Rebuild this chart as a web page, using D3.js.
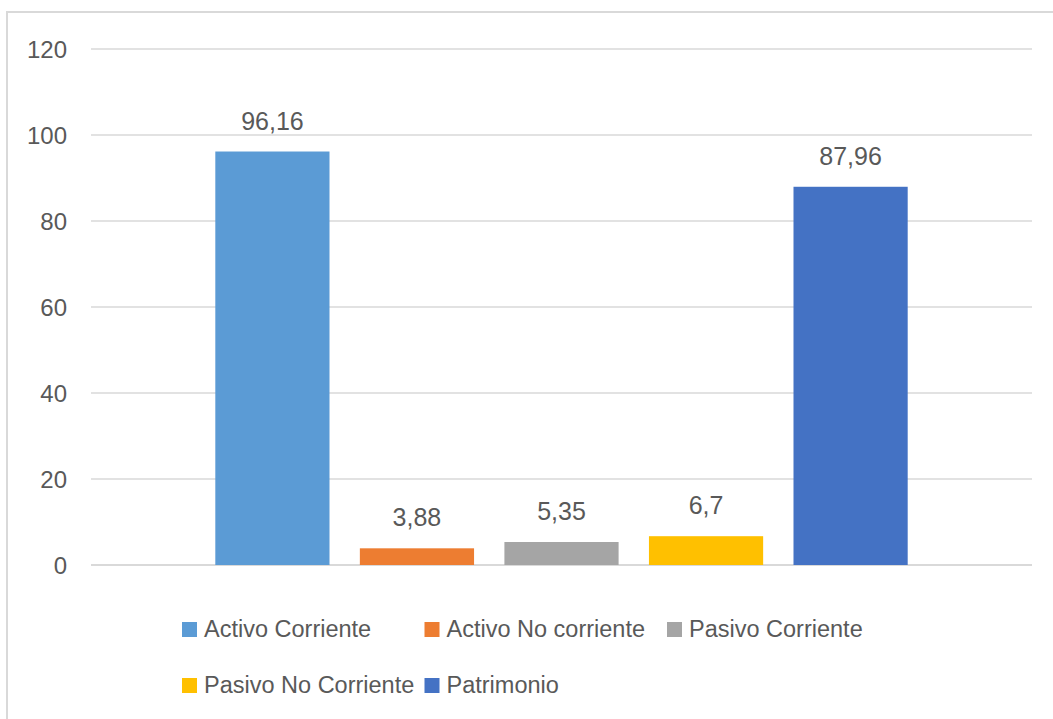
<!DOCTYPE html>
<meta charset="utf-8">
<script src="https://d3js.org/d3.v7.min.js"></script>
<style>
  body { margin: 0; background: #fff; }
  text { font-family: "Liberation Sans", Arial, sans-serif; fill: #595959; }
</style>
<div id="chart"></div>
<script>
// data
var series = ["Activo Corriente", "Activo No corriente", "Pasivo Corriente", "Pasivo No Corriente", "Patrimonio"];
var values = [96.16, 3.88, 5.35, 6.7, 87.96];
var labels = ["96,16", "3,88", "5,35", "6,7", "87,96"];
var colors = ["#5B9BD5", "#ED7D31", "#A5A5A5", "#FFC000", "#4472C4"];
var yTicks = [0, 20, 40, 60, 80, 100, 120];

var W = 1053, H = 719;
var plot = {left: 91, right: 1032, top: 49, bottom: 565};

var svg = d3.select("#chart").append("svg")
  .attr("width", W)
  .attr("height", H);

// outer chart border (only top and left visible in the crop)
svg.append("rect")
  .attr("x", 7).attr("y", 12)
  .attr("width", 1200).attr("height", 900)
  .attr("fill", "none")
  .attr("stroke", "#d9d9d9")
  .attr("stroke-width", 2);

var y = d3.scaleLinear().domain([0, 120]).range([plot.bottom, plot.top]);
var x = d3.scaleBand()
  .domain(series)
  .range([plot.left, plot.right])
  .paddingInner(0.21)
  .paddingOuter(0.86);

// gridlines
svg.append("g")
  .selectAll("line")
  .data(yTicks)
  .enter().append("line")
    .attr("x1", plot.left).attr("x2", plot.right)
    .attr("y1", function(d) { return y(d); })
    .attr("y2", function(d) { return y(d); })
    .attr("stroke", "#d9d9d9")
    .attr("stroke-width", function(d) { return d == 0 ? 2 : 1.5; });

// y axis labels
var yAxis = svg.append("g")
  .attr("transform", "translate(" + (plot.left - 24) + ",0)")
  .call(d3.axisLeft(y).tickValues(yTicks).tickSize(0).tickPadding(0));
yAxis.select(".domain").remove();
yAxis.selectAll("text")
  .style("font-size", "24px")
  .attr("fill", "#595959")
  .attr("dy", "0.35em")
  .style("font-family", "'Liberation Sans', Arial, sans-serif");

// bars
svg.append("g")
  .selectAll("rect")
  .data(series)
  .enter().append("rect")
    .attr("x", function(d) { return x(d); })
    .attr("y", function(d, i) { return y(values[i]); })
    .attr("width", x.bandwidth())
    .attr("height", function(d, i) { return y(0) - y(values[i]); })
    .attr("fill", function(d, i) { return colors[i]; });

// value labels
svg.append("g")
  .selectAll("text")
  .data(series)
  .enter().append("text")
    .attr("x", function(d) { return x(d) + x.bandwidth() / 2; })
    .attr("y", function(d, i) { return y(values[i]) - 22; })
    .attr("text-anchor", "middle")
    .style("font-size", "25px")
    .text(function(d, i) { return labels[i]; });

// legend: 3 columns
var colW = 242.5, rowH = 56, legX = 182, legY = 637;
var leg = svg.append("g")
  .selectAll("g")
  .data(series)
  .enter().append("g")
    .attr("transform", function(d, i) {
      return "translate(" + (legX + (i % 3) * colW) + "," + (legY + Math.floor(i / 3) * rowH) + ")";
    });
leg.append("rect")
  .attr("x", 0).attr("y", -15)
  .attr("width", 15).attr("height", 15)
  .attr("fill", function(d, i) { return colors[i]; });
leg.append("text")
  .attr("x", 22).attr("y", 0)
  .style("font-size", "23.5px")
  .text(function(d) { return d; });
</script>
